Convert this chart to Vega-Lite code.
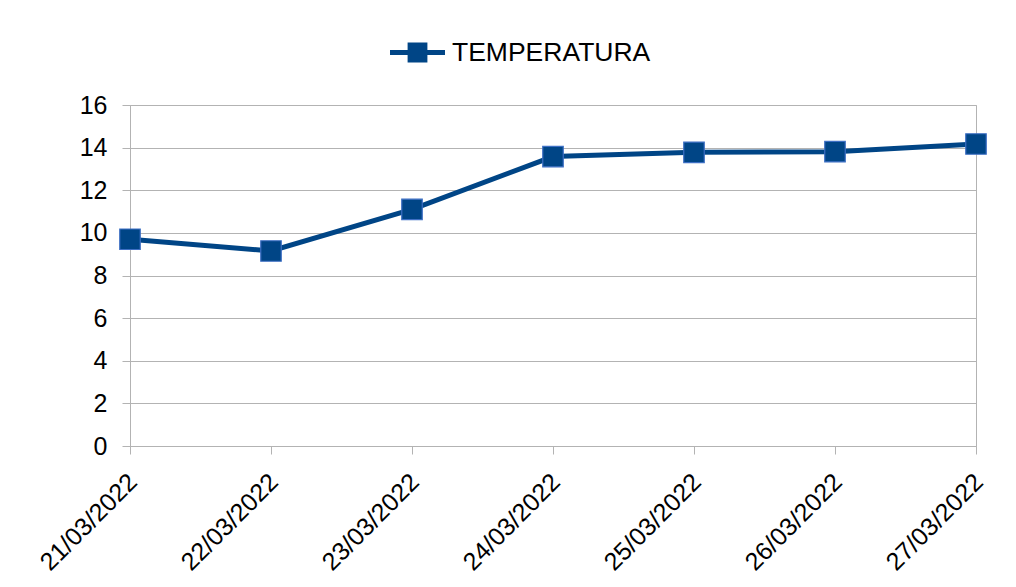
{
  "$schema": "https://vega.github.io/schema/vega-lite/v6.json",
  "width": 846,
  "height": 341,
  "autosize": {"type": "none"},
  "padding": {"left": 130, "top": 105, "right": 40, "bottom": 141},
  "background": "white",
  "data": {
    "values": [
      {"fecha": "21/03/2022", "temperatura": 9.7},
      {"fecha": "22/03/2022", "temperatura": 9.15},
      {"fecha": "23/03/2022", "temperatura": 11.1},
      {"fecha": "24/03/2022", "temperatura": 13.58},
      {"fecha": "25/03/2022", "temperatura": 13.78},
      {"fecha": "26/03/2022", "temperatura": 13.81},
      {"fecha": "27/03/2022", "temperatura": 14.17}
    ]
  },
  "encoding": {
    "x": {
      "field": "fecha",
      "type": "ordinal",
      "sort": null,
      "scale": {"type": "point", "padding": 0},
      "axis": {
        "title": null,
        "labelAngle": -45,
        "labelFontSize": 25,
        "labelColor": "#000000",
        "labelPadding": 15,
        "labelOffset": -6,
        "tickSize": 8,
        "tickColor": "#b3b3b3",
        "domainColor": "#b3b3b3",
        "grid": false
      }
    },
    "y": {
      "field": "temperatura",
      "type": "quantitative",
      "scale": {"domain": [0, 16], "nice": false},
      "axis": {
        "title": null,
        "values": [0, 2, 4, 6, 8, 10, 12, 14, 16],
        "labelFontSize": 25,
        "labelColor": "#000000",
        "labelPadding": 15,
        "tickSize": 8,
        "tickColor": "#b3b3b3",
        "domainColor": "#b3b3b3",
        "gridColor": "#b3b3b3",
        "grid": true
      }
    },
    "color": {
      "datum": "TEMPERATURA",
      "type": "nominal",
      "scale": {"range": ["#004586"]},
      "legend": {
        "title": null,
        "orient": "none",
        "legendX": 260,
        "legendY": -80,
        "padding": 0,
        "labelFontSize": 26.5,
        "labelLimit": 0,
        "labelColor": "#000000",
        "labelOffset": 7,
        "symbolType": "M-1,-0.09H1V0.09H-1Z M-0.36,-0.36H0.36V0.36H-0.36Z",
        "symbolSize": 3025,
        "symbolStrokeWidth": 0,
        "symbolOpacity": 1
      }
    }
  },
  "layer": [
    {"mark": {"type": "line", "strokeWidth": 5}},
    {"mark": {"type": "point", "shape": "square", "filled": true, "size": 420, "stroke": "#3d6fc4", "strokeWidth": 1.2, "opacity": 1}}
  ],
  "config": {
    "font": "Liberation Sans",
    "view": {"stroke": "#b3b3b3"}
  }
}
